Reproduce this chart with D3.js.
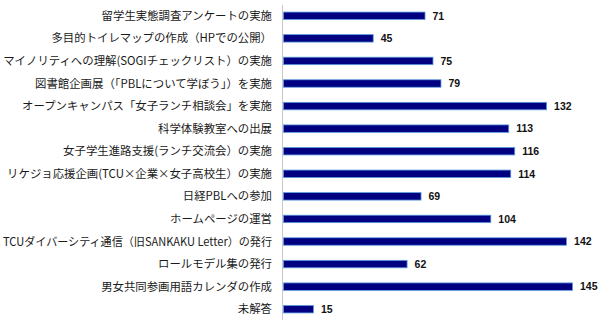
<!DOCTYPE html>
<html><head><meta charset="utf-8">
<script src="https://cdn.jsdelivr.net/npm/d3@7"></script>
<style>
html,body{margin:0;padding:0;background:#fff;}
svg{display:block;}
</style></head>
<body><div id="chart"></div>
<script>
const categories = [
  "留学生実態調査アンケートの実施",
  "多目的トイレマップの作成（HPでの公開）",
  "マイノリティへの理解(SOGIチェックリスト）の実施",
  "図書館企画展（「PBLについて学ぼう」）を実施",
  "オープンキャンパス「女子ランチ相談会」を実施",
  "科学体験教室への出展",
  "女子学生進路支援(ランチ交流会）の実施",
  "リケジョ応援企画(TCU×企業×女子高校生）の実施",
  "日経PBLへの参加",
  "ホームページの運営",
  "TCUダイバーシティ通信（旧SANKAKU Letter）の発行",
  "ロールモデル集の発行",
  "男女共同参画用語カレンダの作成",
  "未解答"
];
const values = [71, 45, 75, 79, 132, 113, 116, 114, 69, 104, 142, 62, 145, 15];

const W = 600, H = 324;
const margin = {left: 283, right: 18, top: 4.5, bottom: 3.5};
const svg = d3.select("#chart").append("svg").attr("width", W).attr("height", H);

const x = d3.scaleLinear().domain([0, 150]).range([margin.left, W - margin.right]);
const y = d3.scaleBand().domain(categories).range([margin.top, H - margin.bottom]).paddingInner(0.67).paddingOuter(0.335);

svg.append("line")
  .attr("x1", margin.left - 0.5).attr("x2", margin.left - 0.5)
  .attr("y1", 5).attr("y2", 320)
  .attr("stroke", "#c8c8c8").attr("stroke-width", 1);

svg.selectAll("rect.bar").data(categories).enter().append("rect")
  .attr("class", "bar")
  .attr("x", x(0) + 0.5)
  .attr("y", d => y(d))
  .attr("width", (d, i) => x(values[i]) - x(0))
  .attr("height", y.bandwidth())
  .attr("fill", "#000080")
  .attr("stroke", "#5a9ae0")
  .attr("stroke-width", 0.8);

const cats = svg.selectAll("text.cat").data(categories).enter().append("text")
  .attr("class", "cat")
  .attr("x", 272)
  .attr("y", d => y(d) + y.bandwidth() / 2)
  .attr("dy", "0.36em")
  .attr("text-anchor", "end")
  .attr("font-family", "'Liberation Sans Narrow', 'Noto Sans CJK JP', 'Noto Sans', sans-serif")
  .attr("font-size", "11.4px")
  .attr("fill", "#1a1a1a")
  .text(d => d);

// keep any over-long label inside the canvas
cats.each(function() {
  const w = this.getComputedTextLength();
  if (w > 269) d3.select(this).attr("textLength", 269).attr("lengthAdjust", "spacingAndGlyphs");
});

svg.selectAll("text.val").data(categories).enter().append("text")
  .attr("class", "val")
  .attr("x", (d, i) => x(values[i]) + 8)
  .attr("y", d => y(d) + y.bandwidth() / 2)
  .attr("dy", "0.36em")
  .attr("font-family", "'Liberation Sans', Arial, sans-serif")
  .attr("font-weight", "bold")
  .attr("font-size", "10.5px")
  .attr("fill", "#111")
  .text((d, i) => values[i]);
</script></body></html>
